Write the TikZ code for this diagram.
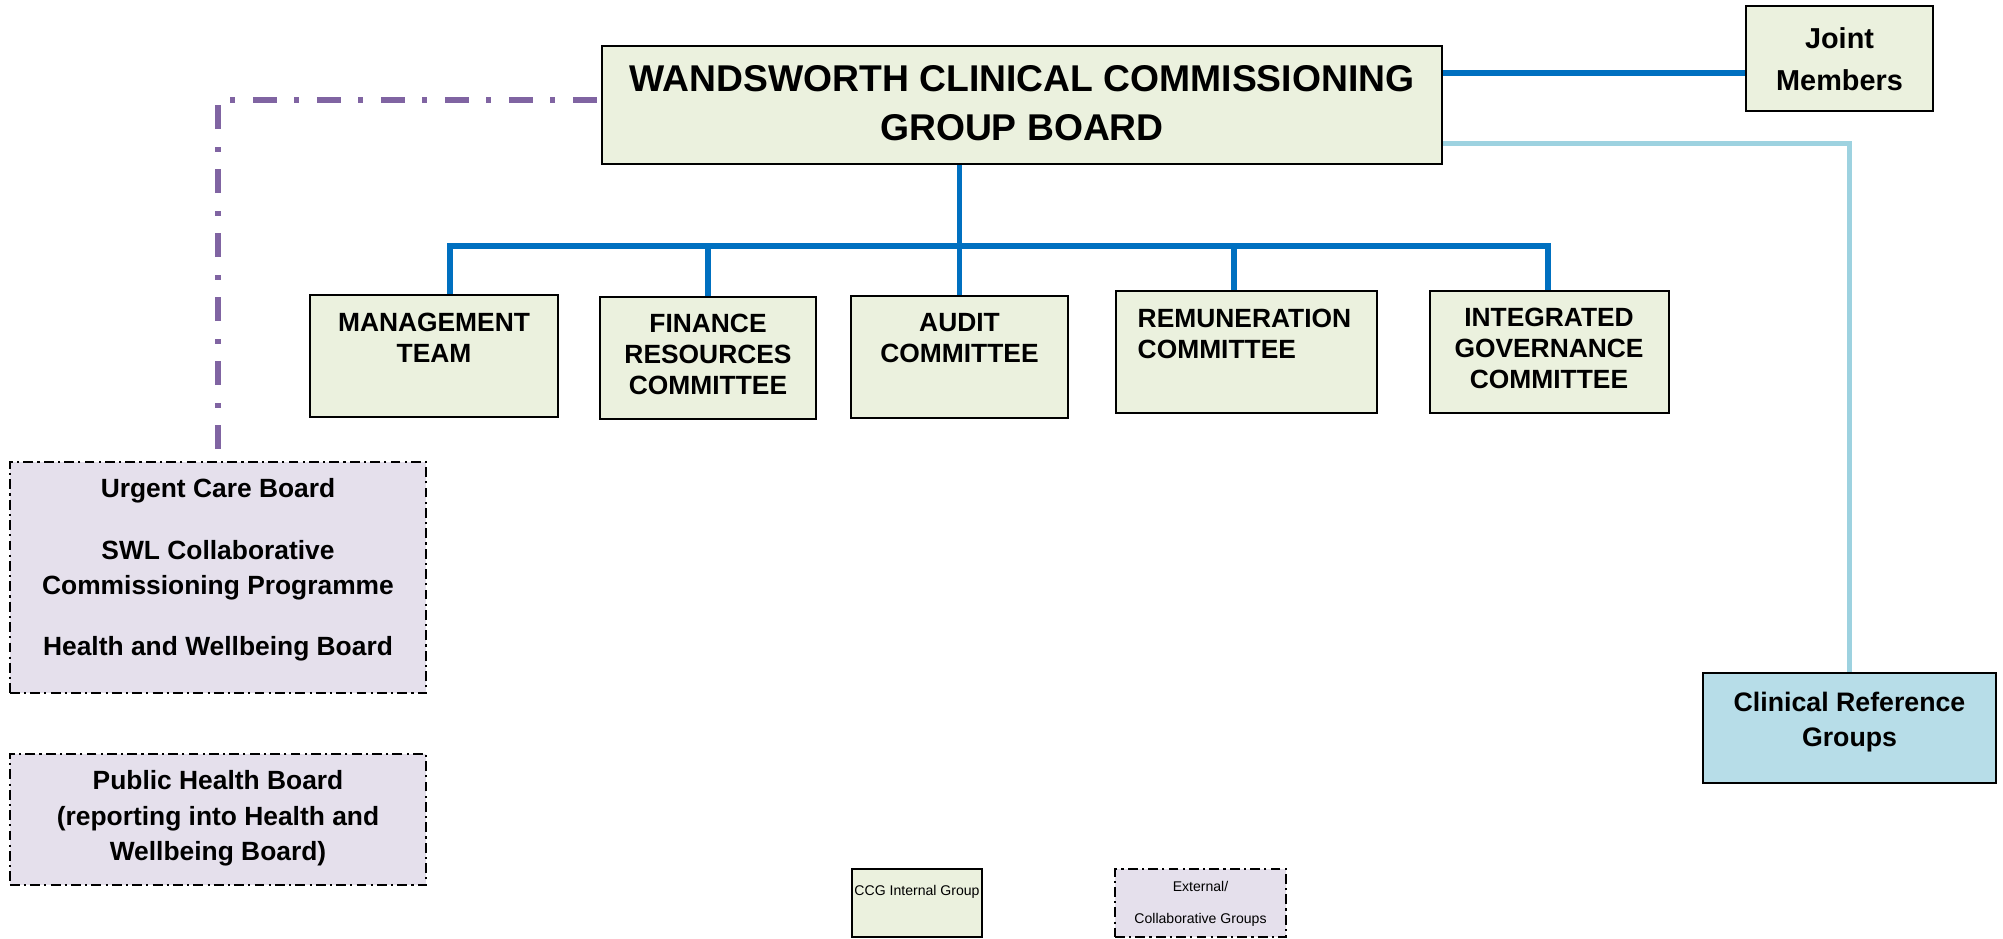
\documentclass[tikz,border=0pt]{standalone}
\usepackage{fontspec}
\setmainfont{Liberation Sans}

\definecolor{ccggreen}{HTML}{EBF1DE}
\definecolor{extlilac}{HTML}{E5E0EC}
\definecolor{crgblue}{HTML}{B7DDE8}
\definecolor{linkblue}{HTML}{0070C0}
\definecolor{linklight}{HTML}{9DD2E0}
\definecolor{linkpurple}{HTML}{8064A2}

\tikzset{
  intbox/.style = {draw, line width=0.6pt, fill=ccggreen, inner sep=0pt},
  extbox/.style = {draw, line width=0.5pt, fill=extlilac, inner sep=0pt,
                   dash pattern=on 2.8pt off 1.2pt on 0.6pt off 1.2pt},
  crgbox/.style = {draw, line width=0.6pt, fill=crgblue, inner sep=0pt},
  lbl/.style    = {inner sep=0pt, align=center,
                   font=\bfseries\fontsize{7.5}{8.8}\selectfont},
  keylbl/.style = {inner sep=0pt, align=center,
                   font=\fontsize{4.0}{9.2}\selectfont},
  mainlink/.style = {draw=linkblue, line width=1.6pt},
  crglink/.style  = {draw=linklight, line width=1.4pt},
  extlink/.style  = {draw=linkpurple, line width=1.7pt,
                     dash pattern=on 6.8pt off 5pt on 1.4pt off 5pt}
}

\begin{document}
\begin{tikzpicture}[x=0.01cm, y=-0.01cm]

  \useasboundingbox (0,0) rectangle (2003,938);

  % governing body and joint members
  \node[intbox, minimum width=8.40cm, minimum height=1.18cm] (ccg) at (1022,105) {};
  \node[lbl, anchor=north, font=\bfseries\fontsize{10.6}{13.9}\selectfont] (ccgtxt) at (1022,65)
    {WANDSWORTH CLINICAL COMMISSIONING\\GROUP BOARD};
  \node[intbox, minimum width=1.87cm, minimum height=1.05cm] (joint) at (1839.5,58.5) {};
  \node[lbl, anchor=north, font=\bfseries\fontsize{8.2}{11.8}\selectfont] (jointtxt) at (1839.5,27)
    {Joint\\Members};

  % committees
  \node[intbox, minimum width=2.48cm, minimum height=1.22cm] (mgmt) at (434,356) {};
  \node[lbl, anchor=north] (mgmttxt) at (434,312) {MANAGEMENT\\TEAM};
  \node[intbox, minimum width=2.16cm, minimum height=1.22cm] (finance) at (708,358) {};
  \node[lbl, anchor=north] (financetxt) at (708,313) {FINANCE\\RESOURCES\\COMMITTEE};
  \node[intbox, minimum width=2.17cm, minimum height=1.22cm] (audit) at (959.5,357) {};
  \node[lbl, anchor=north] (audittxt) at (959.5,313) {AUDIT\\COMMITTEE};
  \node[intbox, minimum width=2.61cm, minimum height=1.22cm] (remun) at (1246.5,352) {};
  \node[lbl, anchor=north west, align=left] (remuntxt) at (1137,308) {REMUNERATION\\COMMITTEE};
  \node[intbox, minimum width=2.39cm, minimum height=1.22cm] (integ) at (1549.5,352) {};
  \node[lbl, anchor=north] (integtxt) at (1549,307) {INTEGRATED\\GOVERNANCE\\COMMITTEE};

  % clinical reference groups
  \node[crgbox, minimum width=2.93cm, minimum height=1.10cm] (crg) at (1849.5,728) {};
  \node[lbl, anchor=north, font=\bfseries\fontsize{7.6}{10}\selectfont] (crgtxt) at (1849.5,691)
    {Clinical Reference\\Groups};

  % external groups
  \node[extbox, minimum width=4.16cm, minimum height=2.31cm] (ext) at (218,577.5) {};
  \node[lbl, anchor=north, font=\bfseries\fontsize{7.5}{10}\selectfont] (exttxt) at (218,478)
    {Urgent Care Board\\[7.4pt]
     SWL Collaborative\\Commissioning Programme\\[7.4pt]
     Health and Wellbeing Board};
  \node[extbox, minimum width=4.16cm, minimum height=1.31cm] (phb) at (218,819.5) {};
  \node[lbl, anchor=north, font=\bfseries\fontsize{7.5}{10}\selectfont] (phbtxt) at (218,770)
    {Public Health Board\\(reporting into Health and\\Wellbeing Board)};

  % key
  \node[intbox, minimum width=1.30cm, minimum height=0.68cm] (keyint) at (917,903) {};
  \node[keylbl] (keyinttxt) at (917,892) {CCG Internal Group};
  \node[extbox, minimum width=1.71cm, minimum height=0.68cm] (keyext) at (1200.5,903) {};
  \node[keylbl] (keyexttxt) at (1200.5,904) {External/\\Collaborative Groups};

  % reporting lines
  \coordinate (busW) at (450,246);
  \coordinate (busE) at (1548,246);
  \draw[mainlink] (busW |- mgmt.north) -- (busW) -- (busE) -- (busE |- integ.north);
  \draw[mainlink] (audit.north) -- (audit.north |- ccg.south);
  \draw[mainlink] (finance.north) -- (finance.north |- busW);
  \coordinate (rl) at ([xshift=-0.125cm]remun.north);
  \draw[mainlink] (rl) -- (rl |- busW);

  \coordinate (jl) at ([yshift=0.32cm]ccg.east);
  \draw[mainlink] (jl) -- (jl -| joint.west);
  \coordinate (cl) at ([yshift=-0.38cm]ccg.east);
  \draw[crglink] (cl) -| (crg.north);
  \coordinate (el) at ([yshift=0.05cm]ccg.west);
  \draw[extlink] ([yshift=0.12cm]ext.north) |- (el);

\end{tikzpicture}
\end{document}
